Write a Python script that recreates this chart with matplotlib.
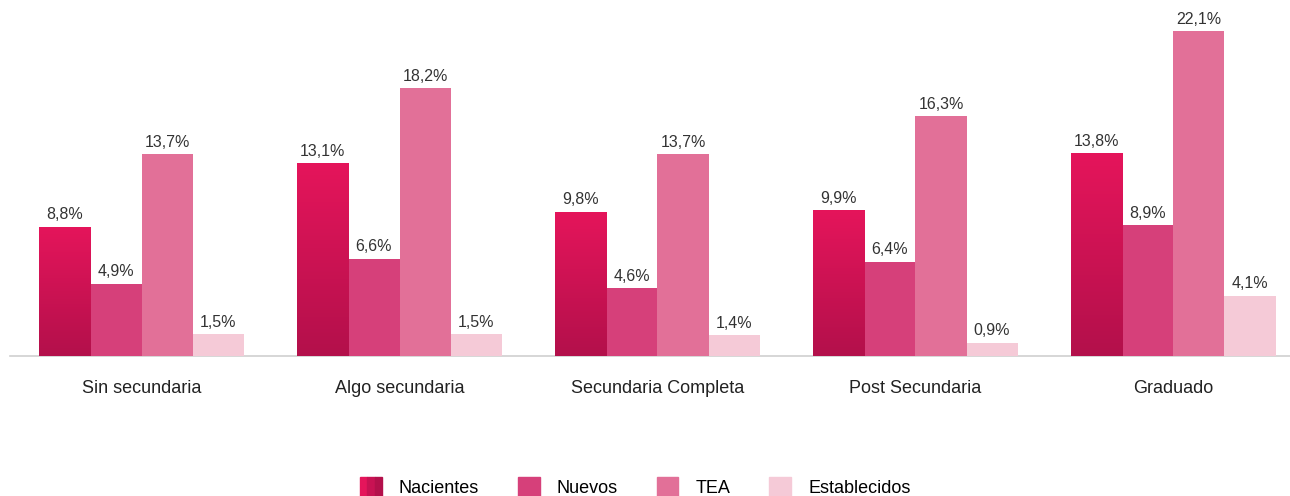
import numpy as np
import matplotlib
matplotlib.use("Agg")
import matplotlib.pyplot as plt
from matplotlib.patches import Patch
from matplotlib.legend_handler import HandlerTuple
from matplotlib.colors import LinearSegmentedColormap

categories = ["Sin secundaria", "Algo secundaria", "Secundaria Completa",
              "Post Secundaria", "Graduado"]
series_names = ["Nacientes", "Nuevos", "TEA", "Establecidos"]
nacientes = [8.8, 13.1, 9.8, 9.9, 13.8]
nuevos = [4.9, 6.6, 4.6, 6.4, 8.9]
tea = [13.7, 18.2, 13.7, 16.3, 22.1]
establecidos = [1.5, 1.5, 1.4, 0.9, 4.1]

series = [nacientes, nuevos, tea, establecidos]
colors = ["#d3125a", "#d6407a", "#e27098", "#f5cad7"]
grad_top, grad_bottom = "#e5155b", "#b3104b"

plt.rcParams["font.family"] = ["Liberation Sans", "DejaVu Sans"]

fig = plt.figure(figsize=(12.9, 4.96), dpi=100)
ax = fig.add_axes([0.0078, 0.2823, 0.9922, 0.7117])

x = np.arange(len(categories))
width = 0.198
offsets = (np.arange(4) - 1.5) * width

grad_cmap = LinearSegmentedColormap.from_list("nac", [grad_bottom, grad_top])
grad = np.linspace(0, 1, 256).reshape(-1, 1)

for s, (vals, col) in enumerate(zip(series, colors)):
    bars = ax.bar(x + offsets[s], vals, width=width, color=col,
                  linewidth=0, zorder=3)
    if s == 0:
        # vertical gradient fill for the first series, clipped to each bar
        for b in bars:
            x0, w, h = b.get_x(), b.get_width(), b.get_height()
            im = ax.imshow(grad, cmap=grad_cmap, aspect="auto", origin="lower",
                           extent=[x0, x0 + w, 0, h], zorder=3.5)
            im.set_clip_path(b)
    for xi, v in zip(x + offsets[s], vals):
        ax.text(xi, v + 0.3, f"{v:.1f}".replace(".", ",") + "%",
                ha="center", va="bottom", fontsize=11.5, color="#333333",
                zorder=4)

ax.set_xlim(-0.5097, 4.452)
ax.set_ylim(0, 24)
ax.set_aspect("auto")
for side in ["top", "right", "left"]:
    ax.spines[side].set_visible(False)
ax.spines["bottom"].set_color("#d0d0d0")
ax.spines["bottom"].set_linewidth(1.2)
ax.spines["bottom"].set_zorder(2)
ax.set_yticks([])
ax.set_xticks(x)
ax.set_xticklabels(categories, fontsize=13, color="#222222")
ax.tick_params(axis="x", length=0, pad=17)

handles = [(Patch(color=grad_top), Patch(color="#c81253"), Patch(color=grad_bottom)),
           Patch(color=colors[1]), Patch(color=colors[2]), Patch(color=colors[3])]
fig.legend(handles, series_names, loc="center", bbox_to_anchor=(0.4925, 0.018),
           ncol=4, frameon=False, fontsize=13, handlelength=1.2,
           handleheight=1.2, handletextpad=0.95, columnspacing=2.15,
           handler_map={tuple: HandlerTuple(ndivide=None, pad=0)})

fig.savefig("out.png", dpi=100, facecolor="white")
